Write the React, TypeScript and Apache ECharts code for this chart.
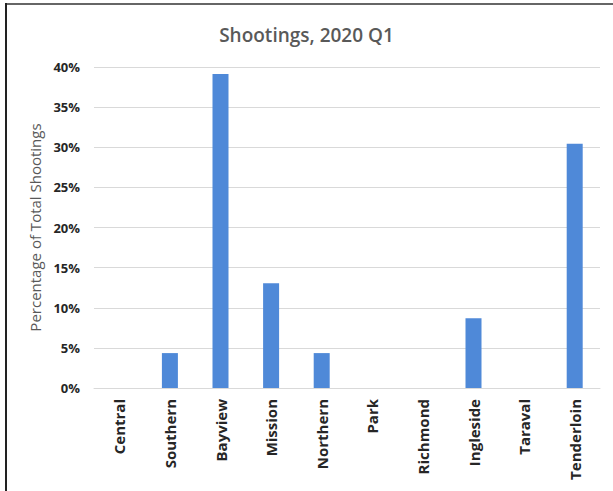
import React, { useEffect, useRef } from "react";
import * as echarts from "echarts";

const categories = ["Central", "Southern", "Bayview", "Mission", "Northern", "Park", "Richmond", "Ingleside", "Taraval", "Tenderloin"];
const shares = [0, 4.35, 39.13, 13.04, 4.35, 0, 0, 8.7, 0, 30.43];
const title = "Shootings, 2020 Q1";
const yName = "Percentage of Total Shootings";

export default function App() {
  const ref = useRef<HTMLDivElement>(null);
  useEffect(() => {
    const chart = echarts.init(ref.current!, null, { renderer: "svg" });
    chart.setOption({
      animation: false,
      backgroundColor: "#ffffff",
      title: {
        text: title,
        left: "center",
        top: 20,
        textStyle: { fontFamily: "Open Sans", fontSize: 19, fontWeight: 600, color: "#595959" },
      },
      graphic: [
        { type: "line", shape: { x1: 5, y1: 4, x2: 613, y2: 4 }, style: { stroke: "#666666", lineWidth: 2 } },
        { type: "line", shape: { x1: 6, y1: 3, x2: 6, y2: 491 }, style: { stroke: "#222222", lineWidth: 2 } },
      ],
      grid: { left: 94, right: 13, top: 67, bottom: 103 },
      xAxis: {
        type: "category",
        data: categories,
        axisTick: { show: false },
        axisLine: { lineStyle: { color: "#d9d9d9", width: 1 } },
        axisLabel: {
          rotate: 90,
          interval: 0,
          margin: 11,
          fontFamily: "Open Sans",
          fontWeight: "bold",
          fontSize: 15,
          color: "#262626",
        },
      },
      yAxis: {
        type: "value",
        min: 0,
        max: 40,
        interval: 5,
        name: yName,
        nameLocation: "middle",
        nameRotate: 90,
        nameGap: 52,
        nameTextStyle: { fontFamily: "Open Sans", fontSize: 15, color: "#595959" },
        axisLine: { show: false },
        axisTick: { show: false },
        splitLine: { lineStyle: { color: "#d9d9d9", width: 1 } },
        axisLabel: {
          formatter: "{value}%",
          margin: 14,
          fontFamily: "Open Sans",
          fontWeight: "bold",
          fontSize: 13,
          color: "#262626",
        },
      },
      series: [
        {
          type: "bar",
          data: shares,
          barWidth: 16,
          itemStyle: { color: "#4F89D8" },
        },
      ],
    });
    return () => chart.dispose();
  }, []);
  return <div ref={ref} style={{ position: "absolute", left: 0, top: 0, width: 613, height: 491 }} />;
}
